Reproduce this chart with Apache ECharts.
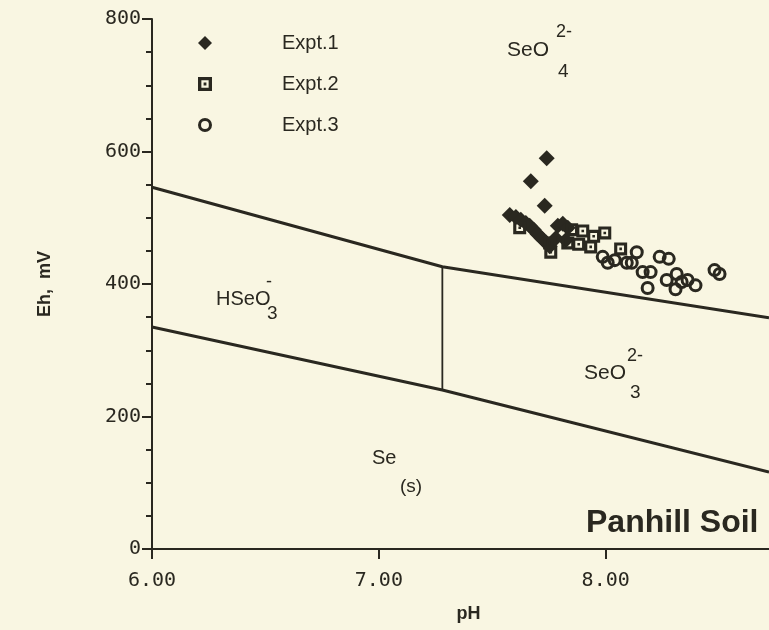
<!DOCTYPE html>
<html>
<head>
<meta charset="utf-8">
<script src="https://cdn.jsdelivr.net/npm/echarts@6/dist/echarts.min.js"></script>
<style>
html,body{margin:0;padding:0;background:#f9f6e2;}
#c{width:769px;height:630px;}
</style>
</head>
<body>
<div id="c"></div>
<script>
// ---- data ----
const xTicks = [6, 7, 8];
const yTicks = [0, 200, 400, 600, 800];
const expt1 = [[7.740,590],[7.670,555],[7.731,518],[7.577,504],[7.604,501],[7.626,497],[7.648,492],[7.665,488],[7.683,482],[7.700,475],[7.718,469],[7.736,463],[7.753,457],[7.789,488],[7.811,491],[7.833,485],[7.780,469],[7.824,466]];
const expt2 = [[7.621,485],[7.753,462],[7.758,448],[7.850,482],[7.899,480],[7.947,472],[7.996,477],[7.833,462],[7.881,460],[7.934,456],[8.066,453]];
const expt3 = [[7.987,441],[8.040,436],[8.009,432],[8.093,432],[8.137,448],[8.115,432],[8.163,418],[8.198,418],[8.185,394],[8.238,441],[8.278,438],[8.269,406],[8.313,415],[8.308,392],[8.335,403],[8.361,406],[8.396,398],[8.480,421],[8.502,415]];
const upperBoundary = [[6.0,546],[7.28,426],[8.72,349]];
const lowerBoundary = [[6.0,335],[7.28,240],[8.72,116]];
const verticalBoundary = [[7.28,240],[7.28,426]];
const legendNames = ['Expt.1','Expt.2','Expt.3'];

const squareDot = 'path://M0,0 H10 V10 H0 Z M2.4,2.4 V7.6 H7.6 V2.4 Z M4,4 H6 V6 H4 Z';
const ring = 'path://M0,-6 A6,6 0 1 1 0,6 A6,6 0 1 1 0,-6 Z M0,-3.4 A3.4,3.4 0 1 0 0,3.4 A3.4,3.4 0 1 0 0,-3.4 Z';
const ink = '#2a2820';
const bg = '#f9f6e2';
const font = 'Liberation Sans, Arial, Helvetica, sans-serif';
const mono = 'DejaVu Sans Mono, monospace';

function txt(x, y, text, size, weight){
  return {type:'text', x:x, y:y, style:{text:text, font:(weight||'normal')+' '+size+'px '+font, fill:ink, align:'left', verticalAlign:'middle'}};
}
const graphics = [
  txt(507, 50, 'SeO', 21), txt(556, 32, '2-', 18), txt(558, 72, '4', 19),
  txt(216, 299, 'HSeO', 20), txt(266, 282, '-', 18), txt(267, 314, '3', 19),
  txt(584, 373, 'SeO', 21), txt(627, 356, '2-', 18), txt(630, 393, '3', 19),
  txt(372, 458, 'Se', 20), txt(400, 487, '(s)', 19),
  txt(586, 523, 'Panhill Soil', 32, 'bold')
];

const chart = echarts.init(document.getElementById('c'));
chart.setOption({
  backgroundColor: bg,
  animation: false,
  grid: {left:152, top:19, right:0, bottom:81, outerBoundsMode:'none', containLabel:false},
  legend: {
    orient:'vertical', left:198, top:33, padding:0, itemWidth:14, itemHeight:14, itemGap:21,
    textStyle:{fontSize:20, fontFamily:font, color:ink, padding:[0,0,0,65]},
    data: legendNames
  },
  xAxis: [{
    type:'value', min:6, max:8.72, interval:1,
    name:'pH', nameLocation:'middle', nameGap:56,
    nameTextStyle:{fontSize:18, fontWeight:'bold', fontFamily:font, color:ink, padding:[0,0,0,16]},
    axisLine:{show:true, onZero:false, lineStyle:{color:ink, width:2}},
    axisTick:{show:true, length:10, customValues:xTicks, lineStyle:{color:ink, width:2}},
    axisLabel:{customValues:xTicks, formatter:v=>Number(v).toFixed(2), fontSize:20, fontFamily:mono, color:ink, margin:22},
    splitLine:{show:false}
  },{
    type:'value', position:'top', min:6, max:8.72,
    axisLine:{show:true, lineStyle:{color:ink, width:2}},
    axisTick:{show:false}, axisLabel:{show:false}, splitLine:{show:false}
  }],
  yAxis: {
    type:'value', min:0, max:800, interval:200,
    name:'Eh,  mV', nameLocation:'middle', nameGap:98, nameRotate:90,
    nameTextStyle:{fontSize:18, fontWeight:'bold', fontFamily:font, color:ink},
    axisLine:{show:true, lineStyle:{color:ink, width:2}},
    axisTick:{show:true, length:10, lineStyle:{color:ink, width:2}},
    minorTick:{show:true, splitNumber:4, length:6, lineStyle:{color:ink, width:2}},
    axisLabel:{formatter:v=>yTicks.includes(v)?String(v):'', fontSize:20, fontFamily:mono, color:ink, margin:11},
    splitLine:{show:false}
  },
  graphic: graphics,
  series: [
    {type:'line', data:upperBoundary, symbol:'none', lineStyle:{color:ink, width:3}, silent:true},
    {type:'line', data:lowerBoundary, symbol:'none', lineStyle:{color:ink, width:3}, silent:true},
    {type:'line', data:verticalBoundary, symbol:'none', lineStyle:{color:ink, width:1.8}, silent:true},
    {name:'Expt.1', type:'scatter', data:expt1, symbol:'diamond', symbolSize:16, itemStyle:{color:ink, opacity:1}},
    {name:'Expt.2', type:'scatter', data:expt2, symbol:squareDot, symbolSize:13, itemStyle:{color:ink, opacity:1}},
    {name:'Expt.3', type:'scatter', data:expt3, symbol:ring, symbolSize:14, itemStyle:{color:ink, opacity:1}}
  ]
});
</script>
</body>
</html>
